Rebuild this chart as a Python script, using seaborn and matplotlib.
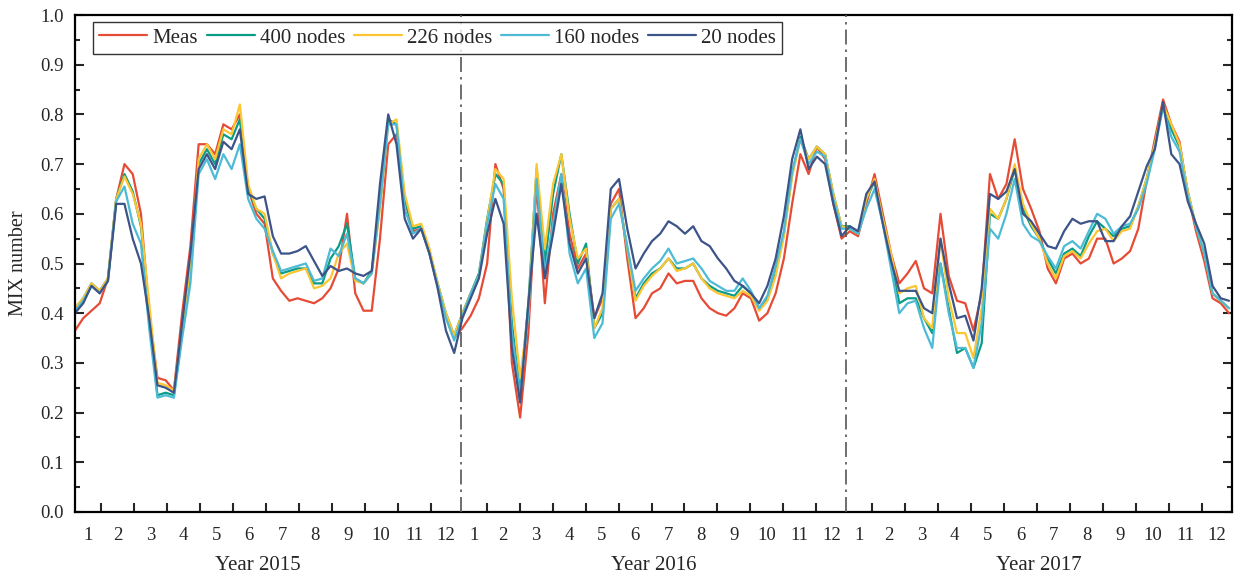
import numpy as np
import pandas as pd
import matplotlib
matplotlib.use('Agg')
import matplotlib.pyplot as plt
import matplotlib.transforms as mtransforms
from matplotlib.ticker import MultipleLocator
import seaborn as sns

sns.set_style('ticks')
plt.rcParams['font.family'] = ['Liberation Serif', 'DejaVu Serif']

# values, one sample every quarter month (2015-01 .. 2017-12)
meas = [0.365, 0.39, 0.405, 0.42, 0.47, 0.63, 0.70, 0.68, 0.60, 0.40, 0.27, 0.265, 0.245, 0.40, 0.535, 0.74,
        0.74, 0.72, 0.78, 0.77, 0.80, 0.65, 0.60, 0.58, 0.47, 0.445, 0.425, 0.43, 0.425, 0.42, 0.43, 0.45,
        0.49, 0.60, 0.44, 0.405, 0.405, 0.55, 0.74, 0.76, 0.63, 0.565, 0.57, 0.52, 0.455, 0.395, 0.35,
        0.37, 0.395, 0.43, 0.50, 0.70, 0.65, 0.30, 0.19, 0.36, 0.66, 0.42, 0.60, 0.68, 0.56, 0.49, 0.52,
        0.39, 0.43, 0.62, 0.65, 0.51, 0.39, 0.41, 0.44, 0.45, 0.48, 0.46, 0.465, 0.465, 0.43, 0.41, 0.40,
        0.395, 0.41, 0.44, 0.43, 0.385, 0.40, 0.44, 0.51, 0.62, 0.72, 0.68, 0.735, 0.71, 0.62, 0.55,
        0.565, 0.555, 0.62, 0.68, 0.60, 0.52, 0.46, 0.48, 0.505, 0.45, 0.44, 0.60, 0.475, 0.425, 0.42, 0.365,
        0.44, 0.68, 0.63, 0.66, 0.75, 0.65, 0.61, 0.565, 0.49, 0.46, 0.51, 0.52, 0.50, 0.51, 0.55, 0.55,
        0.50, 0.51, 0.525, 0.57, 0.665, 0.75, 0.83, 0.78, 0.745, 0.64, 0.565, 0.505, 0.43, 0.42, 0.40]
n400 = [0.41, 0.43, 0.46, 0.445, 0.47, 0.63, 0.68, 0.645, 0.575, 0.40, 0.235, 0.24, 0.235, 0.36, 0.48, 0.70,
        0.73, 0.70, 0.76, 0.75, 0.79, 0.65, 0.61, 0.59, 0.52, 0.48, 0.485, 0.49, 0.49, 0.46, 0.46, 0.51,
        0.535, 0.58, 0.47, 0.46, 0.485, 0.62, 0.79, 0.78, 0.63, 0.57, 0.575, 0.525, 0.46, 0.40, 0.355,
        0.40, 0.44, 0.48, 0.59, 0.68, 0.66, 0.38, 0.24, 0.42, 0.69, 0.50, 0.64, 0.72, 0.60, 0.50, 0.54,
        0.37, 0.40, 0.61, 0.63, 0.53, 0.43, 0.46, 0.48, 0.49, 0.51, 0.49, 0.49, 0.50, 0.47, 0.455, 0.445,
        0.44, 0.435, 0.455, 0.44, 0.41, 0.43, 0.48, 0.56, 0.68, 0.755, 0.71, 0.735, 0.72, 0.64, 0.575,
        0.575, 0.56, 0.63, 0.665, 0.59, 0.51, 0.42, 0.43, 0.43, 0.39, 0.36, 0.50, 0.41, 0.32, 0.33, 0.29,
        0.34, 0.60, 0.59, 0.63, 0.69, 0.61, 0.575, 0.55, 0.51, 0.48, 0.52, 0.53, 0.515, 0.555, 0.585, 0.57,
        0.555, 0.57, 0.575, 0.615, 0.67, 0.74, 0.82, 0.77, 0.735, 0.645, 0.575, 0.52, 0.44, 0.425, 0.41]
n226 = [0.41, 0.43, 0.46, 0.445, 0.47, 0.63, 0.675, 0.64, 0.58, 0.42, 0.26, 0.255, 0.245, 0.37, 0.49, 0.71,
        0.74, 0.71, 0.77, 0.76, 0.82, 0.66, 0.61, 0.60, 0.52, 0.47, 0.48, 0.485, 0.49, 0.45, 0.455, 0.47,
        0.52, 0.54, 0.465, 0.46, 0.48, 0.61, 0.78, 0.79, 0.64, 0.575, 0.58, 0.53, 0.46, 0.40, 0.355,
        0.40, 0.44, 0.475, 0.585, 0.69, 0.67, 0.43, 0.27, 0.40, 0.70, 0.53, 0.66, 0.72, 0.59, 0.51, 0.53,
        0.37, 0.41, 0.61, 0.63, 0.53, 0.425, 0.455, 0.475, 0.49, 0.51, 0.485, 0.49, 0.50, 0.47, 0.45, 0.44,
        0.435, 0.43, 0.445, 0.435, 0.405, 0.425, 0.475, 0.555, 0.675, 0.75, 0.71, 0.735, 0.72, 0.64, 0.575,
        0.57, 0.56, 0.63, 0.67, 0.59, 0.52, 0.44, 0.45, 0.455, 0.39, 0.37, 0.55, 0.43, 0.36, 0.36, 0.31,
        0.41, 0.61, 0.59, 0.63, 0.70, 0.62, 0.58, 0.55, 0.50, 0.47, 0.515, 0.525, 0.51, 0.54, 0.565, 0.57,
        0.545, 0.565, 0.57, 0.615, 0.67, 0.74, 0.82, 0.78, 0.74, 0.645, 0.575, 0.52, 0.44, 0.425, 0.41]
n160 = [0.405, 0.425, 0.455, 0.44, 0.465, 0.625, 0.655, 0.58, 0.54, 0.37, 0.23, 0.235, 0.23, 0.35, 0.46, 0.68,
        0.71, 0.67, 0.72, 0.69, 0.74, 0.63, 0.59, 0.57, 0.525, 0.485, 0.49, 0.495, 0.50, 0.465, 0.47, 0.53,
        0.515, 0.56, 0.47, 0.46, 0.48, 0.62, 0.78, 0.78, 0.61, 0.56, 0.57, 0.52, 0.455, 0.39, 0.345,
        0.395, 0.44, 0.475, 0.58, 0.66, 0.63, 0.36, 0.235, 0.40, 0.67, 0.48, 0.58, 0.68, 0.52, 0.46, 0.49,
        0.35, 0.38, 0.59, 0.62, 0.535, 0.445, 0.47, 0.49, 0.505, 0.53, 0.50, 0.505, 0.51, 0.49, 0.465, 0.455,
        0.445, 0.445, 0.47, 0.445, 0.41, 0.435, 0.495, 0.565, 0.685, 0.75, 0.70, 0.725, 0.715, 0.63, 0.57,
        0.57, 0.56, 0.61, 0.65, 0.58, 0.49, 0.40, 0.42, 0.425, 0.37, 0.33, 0.50, 0.40, 0.33, 0.33, 0.29,
        0.38, 0.57, 0.55, 0.60, 0.67, 0.58, 0.555, 0.545, 0.515, 0.49, 0.535, 0.545, 0.53, 0.565, 0.60, 0.59,
        0.56, 0.575, 0.58, 0.61, 0.66, 0.73, 0.815, 0.755, 0.725, 0.635, 0.575, 0.52, 0.44, 0.425, 0.41]
n20 = [0.40, 0.42, 0.455, 0.44, 0.465, 0.62, 0.62, 0.55, 0.50, 0.39, 0.255, 0.25, 0.24, 0.38, 0.52, 0.69,
       0.72, 0.69, 0.745, 0.73, 0.77, 0.64, 0.63, 0.635, 0.555, 0.52, 0.52, 0.525, 0.535, 0.505, 0.475, 0.495,
       0.485, 0.49, 0.48, 0.475, 0.485, 0.66, 0.80, 0.74, 0.59, 0.55, 0.57, 0.52, 0.45, 0.365, 0.32,
       0.39, 0.43, 0.47, 0.56, 0.63, 0.58, 0.33, 0.22, 0.42, 0.60, 0.47, 0.56, 0.66, 0.54, 0.48, 0.51,
       0.39, 0.44, 0.65, 0.67, 0.57, 0.49, 0.52, 0.545, 0.56, 0.585, 0.575, 0.56, 0.575, 0.545, 0.535, 0.51,
       0.49, 0.465, 0.455, 0.44, 0.42, 0.455, 0.51, 0.595, 0.71, 0.77, 0.69, 0.715, 0.70, 0.62, 0.555,
       0.575, 0.565, 0.64, 0.665, 0.58, 0.505, 0.445, 0.445, 0.445, 0.41, 0.40, 0.55, 0.46, 0.39, 0.395, 0.345,
       0.45, 0.64, 0.63, 0.645, 0.69, 0.60, 0.585, 0.56, 0.535, 0.53, 0.565, 0.59, 0.58, 0.585, 0.585, 0.545,
       0.545, 0.575, 0.595, 0.645, 0.695, 0.73, 0.825, 0.72, 0.70, 0.625, 0.58, 0.54, 0.455, 0.43, 0.425]

names = ['Meas', '400 nodes', '226 nodes', '160 nodes', '20 nodes']
colors = ['#E64B35', '#0A9C86', '#FCC633', '#4DBBD5', '#3C5488']
years = [2015, 2016, 2017]
month_labels = [str(m) for m in range(1, 13)]

step = 0.25                      # months per sample
t = np.arange(len(meas)) * step
df = pd.DataFrame({
    't': np.tile(t, 5),
    'mix': np.concatenate([meas, n400, n226, n160, n20]),
    'series': np.repeat(names, len(t)),
})

year_len = 11.697   # axis units per year
jan_len = 0.788     # first month segment is shorter

fig = plt.figure(figsize=(12.36, 5.79), dpi=100)
ax = fig.add_axes([75 / 1236, 67 / 579, 1157 / 1236, 497 / 579])

sns.lineplot(data=df, x='t', y='mix', hue='series', hue_order=names, palette=colors,
             lw=1.6, ax=ax, legend=False)

ax.set_xlim(0, 3 * year_len)
ax.set_ylim(0, 1.0)

# month boundaries as ticks, month numbers centred between them
ticks, mids = [], []
for k in range(3):
    bounds = [k * year_len] + [k * year_len + jan_len + j for j in range(11)] + [(k + 1) * year_len]
    ticks += bounds[1:-1]
    mids += [(a + b) / 2 for a, b in zip(bounds[:-1], bounds[1:])]
ax.set_xticks(ticks)
ax.set_xticklabels([])
ax.set_xticks(mids, minor=True)
ax.set_xticklabels(month_labels * 3, minor=True)
ax.tick_params(axis='x', which='major', direction='in', length=6.5, width=1.5)
ax.tick_params(axis='x', which='minor', length=0, pad=11, labelsize=13.5)

ax.yaxis.set_minor_locator(MultipleLocator(0.05))
ax.set_yticks(np.arange(0, 1.01, 0.1))
ax.set_yticklabels([f'{v:.1f}' for v in np.arange(0, 1.01, 0.1)])
ax.tick_params(axis='y', which='both', direction='in', left=True, right=True, width=1.5, labelsize=13.5, pad=8)
ax.tick_params(axis='y', which='major', length=6.5)
ax.tick_params(axis='y', which='minor', length=3.5)

for s in ax.spines.values():
    s.set_linewidth(1.6)
    s.set_color('black')

for k in (1, 2):
    ax.axvline(k * year_len, color='#555555', lw=1.2, ls=(0, (9, 3, 1.5, 3)), zorder=3)

trans = mtransforms.blended_transform_factory(ax.transData, ax.transAxes)
for k, yr in enumerate(years):
    ax.text(k * year_len + year_len / 2 - (0.3 if k == 0 else 0), -0.107, f'Year {yr}', transform=trans,
            ha='center', va='center', fontsize=15)

ax.set_xlabel('')
ax.set_ylabel('MIX number', fontsize=14.5)
ax.yaxis.set_label_coords(-0.0406, 0.5)

leg = ax.legend(ax.lines[:5], names, loc='upper left', bbox_to_anchor=(0.0156, 0.986), ncol=5,
                frameon=True, fancybox=False, edgecolor='black', fontsize=15, handlelength=2.3,
                handletextpad=0.25, columnspacing=0.42, borderpad=0.3, borderaxespad=0)
leg.get_frame().set_linewidth(1.0)

fig.savefig('out.png', dpi=100)
